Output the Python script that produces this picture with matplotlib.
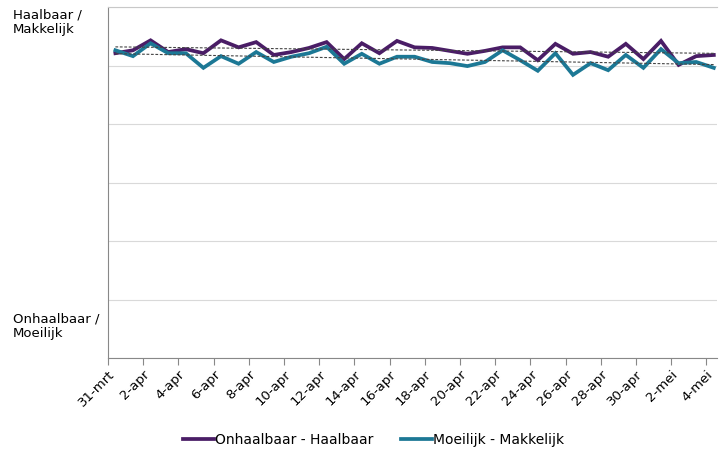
import matplotlib
matplotlib.use("Agg")
import matplotlib.pyplot as plt
import numpy as np

plt.rcParams['font.family'] = ['DejaVu Sans']

dates = ["31-mrt"] + [f"{d}-apr" for d in range(1, 31)] + [f"{d}-mei" for d in range(1, 5)]

# values on a 1 (Onhaalbaar / Moeilijk) .. 7 (Haalbaar / Makkelijk) scale
onhaalbaar_haalbaar = [6.21, 6.26, 6.43, 6.23, 6.28, 6.21, 6.43, 6.31, 6.40, 6.18,
                       6.23, 6.30, 6.40, 6.11, 6.38, 6.21, 6.42, 6.31, 6.30, 6.25,
                       6.20, 6.25, 6.31, 6.31, 6.09, 6.37, 6.20, 6.23, 6.15, 6.37,
                       6.11, 6.42, 6.01, 6.16, 6.18]
moeilijk_makkelijk = [6.26, 6.16, 6.38, 6.21, 6.21, 5.96, 6.16, 6.03, 6.23, 6.06,
                      6.15, 6.21, 6.32, 6.03, 6.20, 6.03, 6.15, 6.15, 6.06, 6.04,
                      5.99, 6.06, 6.26, 6.09, 5.91, 6.21, 5.84, 6.04, 5.92, 6.18,
                      5.96, 6.28, 6.04, 6.06, 5.96]

series_names = ["Onhaalbaar - Haalbaar", "Moeilijk - Makkelijk"]
colors = ["#4a1d66", "#1c7895"]

fig = plt.figure(figsize=(7.19, 4.55), dpi=100)
ax = fig.add_axes([108/719, 1-358/455, 609/719, 351/455])

x = np.arange(len(dates))
for vals, name, c in zip([onhaalbaar_haalbaar, moeilijk_makkelijk], series_names, colors):
    ax.plot(x, vals, color=c, lw=2.7, label=name, solid_joinstyle='miter', zorder=3)
for vals in [onhaalbaar_haalbaar, moeilijk_makkelijk]:
    k, b = np.polyfit(x, vals, 1)
    ax.plot(x, k*x + b, color="#444444", lw=0.8, ls=(0, (2.5, 1.5)), zorder=4)

ax.set_ylim(1, 7)
ax.set_yticks(np.arange(1, 8))
ax.set_yticklabels([])
ax.tick_params(axis='y', length=0)
ax.grid(axis='y', color="#d9d9d9", lw=0.8)
ax.set_axisbelow(True)

off = 0.42
ax.set_xlim(-off, -off + 609/17.6)
tick_idx = list(range(0, len(dates), 2))
ax.set_xticks([i - off for i in tick_idx])
ax.set_xticklabels([dates[i] for i in tick_idx], rotation=45, ha='right',
                   rotation_mode='anchor', fontsize=9.5)
ax.tick_params(axis='x', length=5, color="#888888", pad=2)

ax.spines['top'].set_color("#c8c8c8")
ax.spines['right'].set_visible(False)
ax.spines['left'].set_color("#888888")
ax.spines['bottom'].set_color("#888888")

fig.text(13/719, 1-8/455, "Haalbaar /\nMakkelijk", ha='left', va='top', fontsize=9.5, linespacing=1.25)
fig.text(13/719, 1-312/455, "Onhaalbaar /\nMoeilijk", ha='left', va='top', fontsize=9.5, linespacing=1.25)

fig.legend(loc='center', bbox_to_anchor=(0.52, 1-440/455), ncol=2, frameon=False,
           fontsize=10, handlelength=2.2, handletextpad=0.1, columnspacing=2.0)

fig.savefig("out.png", dpi=100)
